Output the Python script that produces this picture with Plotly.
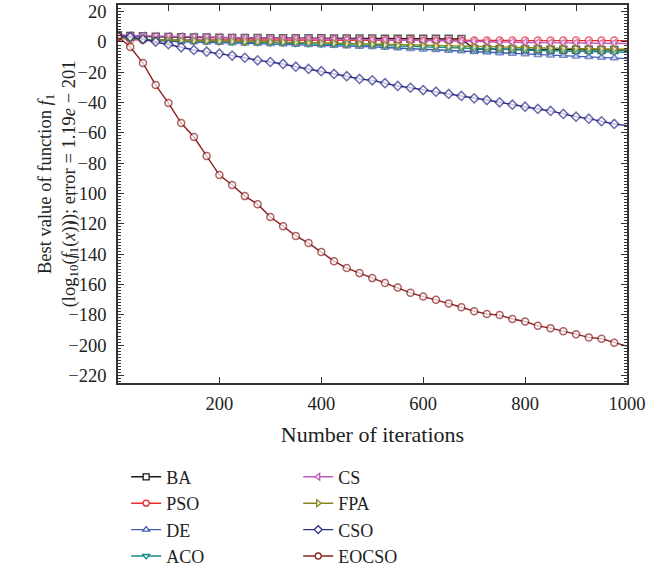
import plotly.graph_objects as go

iterations = [1] + list(range(25, 1001, 25))

BA = [4.5, 4.0, 3.7, 3.5, 3.3, 3.2, 3.0, 2.9, 2.8, 2.7, 2.6, 2.6, 2.5, 2.5, 2.4, 2.4, 2.4, 2.3, 2.3, 2.3,
      2.3, 2.2, 2.2, 2.2, 2.2, 2.1, 2.1, 2.0, -4.6, -4.7, -4.8, -4.9, -5.0, -5.0, -5.1, -5.1, -5.2, -5.2,
      -5.3, -5.3, -5.4]
PSO = [3.0, 1.5, 1.4, 1.4, 1.4, 1.3, 1.3, 1.3, 1.3, 1.3, 1.2, 1.2, 1.2, 1.2, 1.2, 1.2, 1.2, 1.1, 1.1, 1.1,
       1.1, 1.1, 1.1, 1.1, 1.0, 1.0, 1.0, 1.0, 1.0, 1.0, 1.0, 1.0, 0.9, 0.9, 0.9, 0.9, 0.9, 0.9, 0.9, 0.9, 0.9]
DE = [4.0, 2.5, 1.5, 1.0, 0.5, 0.2, 0.0, -0.2, -0.4, -0.6, -0.8, -1.0, -1.2, -1.4, -1.6, -1.8, -2.0, -2.3,
      -2.6, -2.9, -3.2, -3.6, -4.0, -4.4, -4.8, -5.2, -5.6, -6.0, -6.4, -6.8, -7.2, -7.6, -8.0, -8.4, -8.7,
      -9.0, -9.4, -9.8, -10.2, -10.6, -11.0]
ACO = [3.5, 2.5, 1.8, 1.4, 1.2, 1.0, 0.8, 0.6, 0.4, 0.2, 0.0, -0.2, -0.3, -0.5, -0.7, -0.9, -1.1, -1.3,
       -1.5, -1.7, -2.0, -2.3, -2.6, -2.9, -3.2, -3.5, -3.8, -4.1, -4.4, -4.7, -5.0, -5.2, -5.4, -5.6, -5.8,
       -6.0, -6.2, -6.4, -6.6, -6.7, -6.8]
CS = [4.5, 4.2, 4.0, 3.9, 3.8, 3.6, 3.4, 3.2, 3.0, 2.8, 2.6, 2.5, 2.4, 2.4, 2.3, 2.2, 2.1, 2.0, 1.8, 1.6,
      1.3, 1.2, 1.1, 1.0, 0.9, 0.8, 0.7, 0.6, 0.5, 0.2, -0.1, -0.2, -0.3, -0.4, -0.5, -0.6, -0.6, -0.7,
      -0.8, -0.9, -1.0]
FPA = [3.0, 2.0, 1.5, 1.3, 1.2, 1.0, 0.9, 0.8, 0.6, 0.5, 0.3, 0.2, 0.1, 0.0, -0.2, -0.4, -0.6, -0.8, -1.0,
       -1.2, -1.5, -1.8, -2.0, -2.2, -2.4, -2.6, -2.8, -3.0, -3.1, -3.4, -3.7, -3.9, -4.0, -4.1, -4.2, -4.3,
       -4.4, -4.5, -4.6, -4.7, -4.8]
CSO = [4.0, 3.3, 1.8, 0.2, -1.5, -3.5, -5.3, -6.4, -7.7, -9.0, -10.4, -12.1, -13.2, -14.5, -16.3, -17.8,
       -19.3, -21.1, -22.6, -24.4, -25.3, -27.2, -29.0, -30.2, -31.7, -32.8, -34.3, -35.6, -37.2, -38.3,
       -39.8, -41.4, -42.7, -44.2, -45.5, -47.5, -49.3, -50.6, -52.3, -54.1, -55.2]
EOCSO = [3.5, -3.3, -13.9, -28.4, -40.3, -53.5, -62.7, -75.2, -87.8, -94.4, -101.7, -107.0, -115.5,
         -121.5, -128.0, -132.7, -138.6, -144.6, -149.2, -152.5, -155.8, -159.0, -162.0, -165.5, -168.0,
         -170.0, -172.5, -175.0, -177.6, -179.5, -180.2, -182.8, -184.4, -187.3, -188.8, -190.8, -192.9,
         -194.9, -195.8, -198.5, -200.7]

names = ["BA", "PSO", "DE", "ACO", "CS", "FPA", "CSO", "EOCSO"]
series = [BA, PSO, DE, ACO, CS, FPA, CSO, EOCSO]
colors = ["#1a1a1a", "#ec2a2e", "#3f5db5", "#138a87", "#c05ab8", "#85851c", "#2e2e8c", "#8c1f1f"]
symbols = ["square", "circle", "triangle-up", "triangle-down", "triangle-left", "triangle-right",
           "diamond", "circle"]
legends = ["legend", "legend", "legend", "legend", "legend2", "legend2", "legend2", "legend2"]

FONT = "Liberation Serif, Times New Roman, DejaVu Serif, serif"
FS = 18.5
LFS = 18

fig = go.Figure()
n = len(iterations)
for name, ys, col, sym in zip(names, series, colors, symbols):
    sizes = [7] * (n - 1) + [0]
    fig.add_trace(go.Scatter(
        x=iterations, y=ys, name=name, mode="lines+markers",
        line=dict(color=col, width=1.4),
        marker=dict(symbol=sym, size=sizes, color="white", line=dict(color=col, width=1.5)),
        showlegend=False, hoverinfo="x+y+name",
    ))

# legend-only entries
for name, col, sym, lg in zip(names, colors, symbols, legends):
    fig.add_trace(go.Scatter(
        x=[None], y=[None], name=name, mode="lines+markers",
        line=dict(color=col, width=1.4),
        marker=dict(symbol=sym, size=6, color="white", line=dict(color=col, width=1.3)),
        legend=lg, showlegend=True, hoverinfo="skip",
    ))

fig.add_trace(go.Scatter(x=[None], y=[None], xaxis="x2", showlegend=False, hoverinfo="skip"))

fig.update_layout(
    width=662, height=571,
    margin=dict(l=118, r=35, t=5, b=188, autoexpand=False),
    paper_bgcolor="white", plot_bgcolor="white",
    font=dict(family=FONT, size=FS, color="#222222"),
    showlegend=True,
    legend=dict(x=0.016, y=-0.200, xanchor="left", yanchor="top", orientation="v",
                bgcolor="rgba(0,0,0,0)", font=dict(size=LFS), tracegroupgap=0),
    legend2=dict(x=0.354, y=-0.200, xanchor="left", yanchor="top", orientation="v",
                 bgcolor="rgba(0,0,0,0)", font=dict(size=LFS), tracegroupgap=0),
    xaxis=dict(range=[1, 1000], tick0=0, dtick=200, ticks="inside", ticklen=6, tickwidth=1.2,
               tickcolor="#333333", showline=True, linecolor="#333333", linewidth=1.5,
               mirror=True, showgrid=False, zeroline=False, ticklabelstandoff=3,
               automargin=False,
               title=dict(text="Number of iterations", standoff=14),
               tickfont=dict(size=FS)),
    xaxis2=dict(range=[1, 1000], tick0=0, dtick=100, ticks="inside", ticklen=6, tickwidth=1.2,
                tickcolor="#333333", overlaying="x", side="top", showticklabels=False,
                showgrid=False, zeroline=False, showline=False, anchor="y", automargin=False),
    yaxis=dict(range=[-225, 24.4], tick0=0, dtick=20, ticks="inside", ticklen=6, tickwidth=1.2,
               tickcolor="#333333", showline=True, linecolor="#333333", linewidth=1.5,
               mirror="ticks", showgrid=False, zeroline=False, automargin=False,
               minor=dict(dtick=2, ticks="inside", ticklen=3, tickwidth=1, tickcolor="#333333"),
               ticklabelstandoff=6,
               tickfont=dict(size=FS)),
    annotations=[dict(
        text="Best value of function <i>f</i><sub>1</sub><br>"
             "(log<sub>10</sub>(<i>f</i><sub>1</sub>(<i>x</i>))); error = 1.19<i>e</i> \u2212 201",
        textangle=-90, xref="paper", yref="paper", x=-0.118, y=0.528,
        xanchor="center", yanchor="middle", showarrow=False,
        font=dict(family=FONT, size=FS, color="#222222"),
    )],
)

fig.write_html("out.html")
